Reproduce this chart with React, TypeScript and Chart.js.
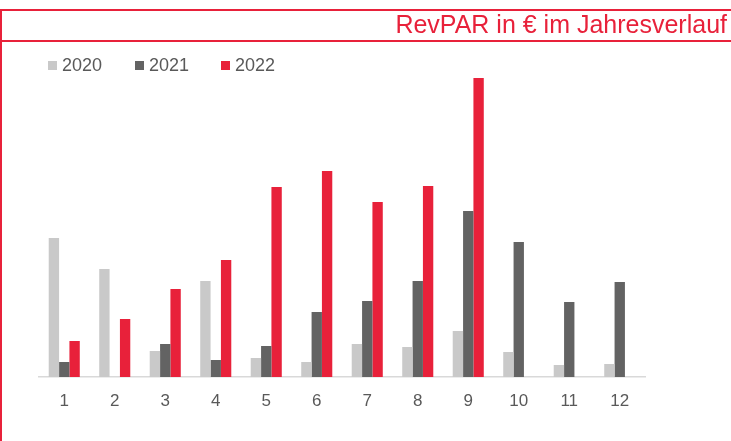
import React, { useEffect, useRef } from 'react';
import { Chart, registerables } from 'chart.js';

Chart.register(...registerables);

const categories = ['1', '2', '3', '4', '5', '6', '7', '8', '9', '10', '11', '12'];
const seriesNames = ['2020', '2021', '2022'];
const values2020 = [139, 108, 26, 96, 19, 15, 33, 30, 46, 25, 12, 13];
const values2021 = [15, 0, 33, 17, 31, 65, 76, 96, 166, 135, 75, 95];
const values2022 = [36, 58, 88, 117, 190, 206, 175, 191, 299, null, null, null];
const seriesColors = ['#C9C9C9', '#636363', '#E8213A'];
const titleText = 'RevPAR in € im Jahresverlauf';

const FONT = "'Liberation Sans', Arial, Helvetica, sans-serif";
const RED = '#E8213A';

export default function App() {
  const canvasRef = useRef<HTMLCanvasElement | null>(null);

  useEffect(() => {
    const canvas = canvasRef.current;
    if (!canvas) return;
    const chart = new Chart(canvas, {
      type: 'bar',
      data: {
        labels: categories,
        datasets: [
          { label: seriesNames[0], data: values2020, backgroundColor: seriesColors[0] },
          { label: seriesNames[1], data: values2021, backgroundColor: seriesColors[1] },
          { label: seriesNames[2], data: values2022 as any, backgroundColor: seriesColors[2] },
        ],
      },
      options: {
        animation: false,
        responsive: false,
        maintainAspectRatio: false,
        layout: { padding: { left: 39, right: 86, top: 78, bottom: 0 } },
        datasets: { bar: { categoryPercentage: 0.615, barPercentage: 1, borderWidth: 0 } },
        plugins: {
          legend: { display: false },
          title: { display: false },
          tooltip: { enabled: false },
        },
        scales: {
          x: {
            grid: { display: false, drawTicks: false },
            border: { display: true, color: '#D9D9D9', width: 1.5 },
            ticks: { color: '#595959', font: { family: FONT, size: 17 }, padding: 14, maxRotation: 0 },
            afterFit: (s: any) => { s.height = 64; },
          },
          y: { display: false, min: 0, max: 299 },
        },
      } as any,
    });
    return () => chart.destroy();
  }, []);

  const legendX = [48, 135, 221];

  return (
    <div style={{ position: 'fixed', left: 0, top: 0, width: 731, height: 441, background: '#fff', overflow: 'hidden', fontFamily: FONT }}>
      <canvas ref={canvasRef} width={731} height={441} style={{ position: 'absolute', left: 0, top: 0, display: 'block' }} />
      <div style={{ position: 'absolute', left: 0, right: 0, top: 9, height: 2, background: RED }} />
      <div style={{ position: 'absolute', left: 0, right: 0, top: 40, height: 2, background: RED }} />
      <div style={{ position: 'absolute', left: 0, width: 2, top: 9, bottom: 0, background: RED }} />
      <div style={{ position: 'absolute', right: 4, top: 12, fontSize: 25, lineHeight: '25px', color: RED, whiteSpace: 'nowrap' }}>{titleText}</div>
      {seriesNames.map((name, i) => (
        <div key={name} style={{ position: 'absolute', left: legendX[i], top: 56, height: 18, whiteSpace: 'nowrap' }}>
          <span style={{ position: 'absolute', left: 0, top: 5, width: 9, height: 9, background: seriesColors[i] }} />
          <span style={{ position: 'absolute', left: 14, top: 0, fontSize: 18, lineHeight: '18px', color: '#595959' }}>{name}</span>
        </div>
      ))}
    </div>
  );
}
